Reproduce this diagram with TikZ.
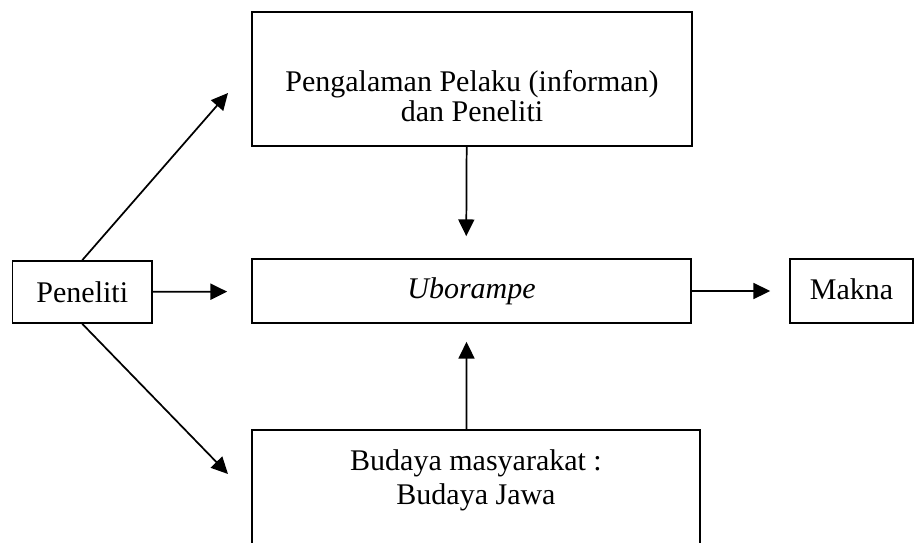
\documentclass[tikz,border=0pt]{standalone}
\usepackage{fontspec}
\setmainfont{Liberation Serif}
\usetikzlibrary{arrows.meta, positioning}
\tikzset{
  kotak/.style   = {draw, line width=1.3pt, inner sep=0pt, align=center,
                    font=\fontsize{22.5}{22.5}\selectfont},
  teks/.style    = {inner sep=0pt, align=center},
  alur/.style    = {-{Triangle[length=12.5pt, width=12pt]}, line width=1.3pt},
}

\begin{document}
\begin{tikzpicture}[x=0.75pt, y=-0.75pt]
    \useasboundingbox (0,0) rectangle (915,543);
    \clip (0,0) rectangle (915,543);
    % kotak-kotak
    \node[kotak, minimum width=104.6pt, minimum height=46.5pt] (peneliti)   at (82.3,292) {Peneliti};
    \node[kotak, minimum width=330pt,   minimum height=100.5pt] (pengalaman) at (472,79)  {};
    \node[kotak, minimum width=329.25pt, minimum height=48pt]   (uborampe)   at (471.5,291) {\textit{Uborampe}};
    \node[kotak, minimum width=92.25pt, minimum height=48pt]    (makna)      at (851.5,291) {\raisebox{2.5pt}{Makna}};
    \node[kotak, minimum width=336pt, minimum height=120pt, anchor=north] (budaya) at (476,429) {};
    % teks dalam kotak atas dan bawah
    \node[teks, font=\fontsize{22.5}{22.5}\selectfont, below=44pt of pengalaman.north] (pengalamantx)
        {Pengalaman Pelaku (informan)\\dan Peneliti};
    \node[teks, font=\fontsize{22.5}{26}\selectfont, below=15pt of budaya.north] (budayatx)
        {Budaya masyarakat :\\Budaya Jawa};

    % ujung panah bebas
    \coordinate (ujungatas)  at (228,93);
    \coordinate (ujungbawah) at (228,474);

    \draw[alur] (peneliti.north) -- (ujungatas);
    \draw[alur] (peneliti.south) -- (ujungbawah);
    \draw[alur, shorten >=18pt] (peneliti) -- (uborampe);
    \draw[alur, shorten >=16.5pt] ([xshift=-4pt]pengalaman.south) -- ([xshift=-4pt]uborampe.north);
    \draw[alur, shorten >=13.5pt] ([xshift=-7.1pt]budaya.north) -- ([xshift=-3.75pt]uborampe.south);
    \draw[alur, shorten >=14.25pt] (uborampe) -- (makna);
\end{tikzpicture}
\end{document}
